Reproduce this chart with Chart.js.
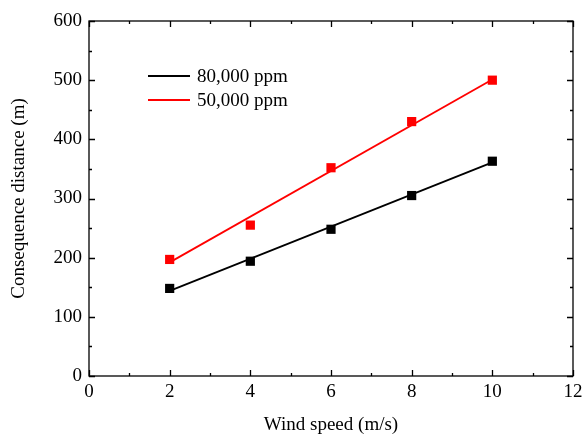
<!DOCTYPE html>
<html>
<head>
<meta charset="utf-8">
<script src="https://cdn.jsdelivr.net/npm/chart.js@4.4.0/dist/chart.umd.min.js"></script>
<style>
  html, body { margin: 0; padding: 0; background: #fff; }
  #wrap { width: 584px; height: 436px; }
</style>
</head>
<body>
<div id="wrap"><canvas id="windChart"></canvas></div>
<script>
// Wind speed (m/s) of each simulation run
const windSpeeds = [2, 4, 6, 8, 10];
// Consequence distance (m) for each concentration
const dist80k = [148, 194, 248, 305, 363];
const dist50k = [197, 255, 352, 430, 500];
// Ends of the linear fit lines
const fitX = [2, 10];
const fit80k = [144, 361];
const fit50k = [192, 501];

const seriesNames = ['80,000 ppm', '50,000 ppm'];
const seriesColors = ['#000000', '#ff0000'];

const FONT = "'Liberation Serif', 'Times New Roman', serif";

function toPoints(xs, ys) {
    return xs.map((x, i) => ({ x: x, y: ys[i] }));
}

// Frame round the plot area with inward major/minor ticks on every side
const frameTicks = {
    id: 'frameTicks',
    afterDraw(chart) {
        const ctx = chart.ctx;
        const a = chart.chartArea;
        const xs = chart.scales.x;
        const ys = chart.scales.y;
        ctx.save();
        ctx.strokeStyle = '#000';
        ctx.lineWidth = 1.3;
        ctx.strokeRect(a.left, a.top, a.right - a.left, a.bottom - a.top);
        ctx.beginPath();
        xs.ticks.forEach(t => {
            const px = Math.round(xs.getPixelForValue(t.value)) + 0.5;
            const len = t.value % 2 === 0 ? 6 : 3;
            ctx.moveTo(px, a.bottom); ctx.lineTo(px, a.bottom - len);
            ctx.moveTo(px, a.top); ctx.lineTo(px, a.top + len);
        });
        ys.ticks.forEach(t => {
            const py = Math.round(ys.getPixelForValue(t.value)) + 0.5;
            const len = t.value % 100 === 0 ? 6 : 3;
            ctx.moveTo(a.left, py); ctx.lineTo(a.left + len, py);
            ctx.moveTo(a.right, py); ctx.lineTo(a.right - len, py);
        });
        ctx.stroke();
        ctx.restore();
    }
};

// Legend inside the plot, line samples only
const innerLegend = {
    id: 'innerLegend',
    afterDatasetsDraw(chart) {
        const ctx = chart.ctx;
        const x0 = 148, x1 = 190, tx = 197;
        const rows = [76, 100];
        ctx.save();
        ctx.font = '19px ' + FONT;
        ctx.textBaseline = 'middle';
        ctx.fillStyle = '#000';
        rows.forEach((y, i) => {
            ctx.strokeStyle = seriesColors[i];
            ctx.lineWidth = 2;
            ctx.beginPath();
            ctx.moveTo(x0, y);
            ctx.lineTo(x1, y);
            ctx.stroke();
            ctx.fillText(seriesNames[i], tx, y + 1);
        });
        ctx.restore();
    }
};

const ctx = document.getElementById('windChart').getContext('2d');
new Chart(ctx, {
    type: 'scatter',
    data: {
        datasets: [
            {
                label: seriesNames[0] + ' fit',
                data: toPoints(fitX, fit80k),
                showLine: true,
                borderColor: seriesColors[0],
                borderWidth: 1.8,
                pointRadius: 0
            },
            {
                label: seriesNames[1] + ' fit',
                data: toPoints(fitX, fit50k),
                showLine: true,
                borderColor: seriesColors[1],
                borderWidth: 1.8,
                pointRadius: 0
            },
            {
                label: seriesNames[0],
                data: toPoints(windSpeeds, dist80k),
                pointStyle: 'rect',
                pointRadius: 6.5,
                borderWidth: 0,
                backgroundColor: seriesColors[0]
            },
            {
                label: seriesNames[1],
                data: toPoints(windSpeeds, dist50k),
                pointStyle: 'rect',
                pointRadius: 6.5,
                borderWidth: 0,
                backgroundColor: seriesColors[1]
            }
        ]
    },
    options: {
        responsive: true,
        maintainAspectRatio: false,
        animation: false,
        layout: { padding: { top: 21, right: 11, left: 0, bottom: 0 } },
        plugins: {
            legend: { display: false },
            tooltip: { enabled: false }
        },
        scales: {
            x: {
                type: 'linear',
                min: 0,
                max: 12,
                border: { display: false },
                grid: { display: false, drawTicks: false },
                ticks: {
                    stepSize: 1,
                    padding: 5,
                    color: '#000',
                    font: { family: FONT, size: 19 },
                    maxRotation: 0,
                    autoSkip: false,
                    callback: v => (v % 2 === 0 ? v : '')
                },
                title: {
                    display: true,
                    text: 'Wind speed (m/s)',
                    color: '#000',
                    font: { family: FONT, size: 19 },
                    padding: { top: 0, bottom: 0 }
                },
                afterFit(scale) {
                    scale.height = 60;
                    scale.paddingLeft = 0;
                    scale.paddingRight = 0;
                }
            },
            y: {
                type: 'linear',
                min: 0,
                max: 600,
                border: { display: false },
                grid: { display: false, drawTicks: false },
                ticks: {
                    stepSize: 50,
                    padding: 7,
                    color: '#000',
                    font: { family: FONT, size: 19 },
                    autoSkip: false,
                    callback: v => (v % 100 === 0 ? v : '')
                },
                title: {
                    display: true,
                    text: 'Consequence distance (m)',
                    color: '#000',
                    font: { family: FONT, size: 19 },
                    padding: { top: 8, bottom: 0 }
                },
                afterFit(scale) {
                    scale.width = 89;
                    scale.paddingTop = 0;
                    scale.paddingBottom = 0;
                }
            }
        }
    },
    plugins: [frameTicks, innerLegend]
});
</script>
</body>
</html>
